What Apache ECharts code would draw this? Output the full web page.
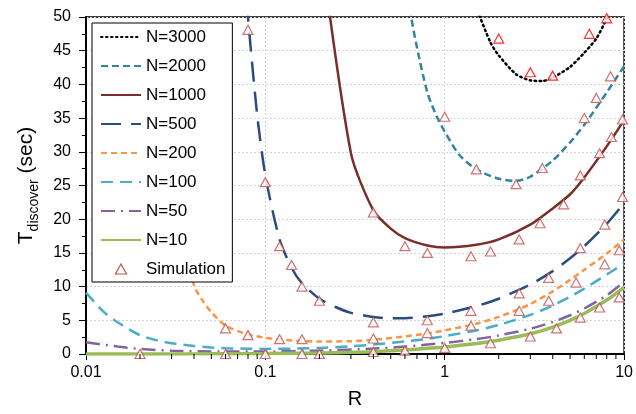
<!DOCTYPE html>
<html>
<head>
<meta charset="utf-8">
<title>T_discover vs R</title>
<script src="https://cdn.jsdelivr.net/npm/echarts@6/dist/echarts.min.js"></script>
<style>
  html, body { margin: 0; padding: 0; background: #fff; }
  #chart { width: 636px; height: 414px; }
</style>
</head>
<body>
<div id="chart"></div>
<script>
// Model curves: [R, T_discover (sec)]
const curveN3000 = [[1.4, 56], [1.5, 51.6], [1.8, 46.2], [2, 44.3], [2.5, 41.5], [3, 40.6], [3.5, 40.5], [4, 41.0], [5, 42.6], [6, 44.7], [7, 46.8], [8, 49.8], [8.5, 51.5]];
const curveN2000 = [[0.6, 56], [0.65, 50], [0.7, 45.5], [0.8, 38.8], [0.9, 35.3], [1, 33], [1.2, 29.6], [1.5, 27.4], [2, 26.0], [2.5, 25.7], [3, 26.3], [4, 28.7], [5, 31.4], [6, 34.0], [8, 38.8], [10, 42.7]];
const curveN1000 = [[0.2, 62], [0.3, 29.8], [0.4, 21.3], [0.5, 18.6], [0.6, 17.2], [0.8, 16.1], [1, 15.8], [1.5, 16.2], [2, 17.0], [3, 19.2], [4, 21.6], [5, 23.7], [6, 26.2], [8, 30.8], [10, 34.7]];
const curveN500 = [[0.07, 70], [0.08, 50], [0.09, 35.5], [0.1, 26.5], [0.12, 17], [0.14, 12.8], [0.16, 10.5], [0.2, 8.2], [0.25, 6.9], [0.3, 6.1], [0.4, 5.5], [0.5, 5.3], [0.6, 5.3], [0.8, 5.6], [1, 6.0], [1.5, 7.1], [2, 8.2], [3, 10.3], [4, 12.3], [5, 14.2], [6, 16.0], [8, 19.3], [10, 22.4]];
const curveN200 = [[0.03, 30], [0.035, 19], [0.04, 10.2], [0.045, 7.8], [0.05, 6.2], [0.06, 4.2], [0.08, 2.9], [0.1, 2.4], [0.12, 2.15], [0.15, 1.95], [0.2, 1.85], [0.3, 1.9], [0.4, 2.1], [0.6, 2.6], [0.8, 3.05], [1, 3.5], [1.5, 4.5], [2, 5.5], [3, 7.4], [4, 9.3], [5, 11.0], [6, 12.5], [8, 14.9], [10, 17.0]];
const curveN100 = [[0.01, 9.1], [0.0125, 6.3], [0.015, 4.7], [0.02, 2.8], [0.025, 2.0], [0.03, 1.6], [0.04, 1.2], [0.05, 0.97], [0.06, 0.85], [0.08, 0.78], [0.1, 0.76], [0.15, 0.8], [0.2, 0.9], [0.3, 1.15], [0.4, 1.4], [0.6, 1.85], [0.8, 2.25], [1, 2.65], [1.5, 3.5], [2, 4.3], [3, 5.8], [4, 7.2], [5, 8.5], [6, 9.7], [8, 11.8], [10, 13.4]];
const curveN50 = [[0.01, 1.75], [0.015, 1.1], [0.02, 0.75], [0.03, 0.5], [0.05, 0.38], [0.1, 0.38], [0.2, 0.5], [0.4, 0.8], [0.6, 1.1], [1, 1.65], [1.5, 2.2], [2, 2.75], [3, 3.75], [4, 4.75], [5, 5.75], [6, 6.75], [8, 8.7], [10, 10.7]];
const curveN10 = [[0.01, 0], [0.05, 0.02], [0.1, 0.06], [0.2, 0.15], [0.3, 0.25], [0.4, 0.35], [0.6, 0.6], [0.8, 0.85], [1, 1.05], [1.5, 1.55], [2, 2.05], [3, 3.0], [4, 4.0], [5, 5.0], [6, 6.0], [8, 8.0], [10, 9.9]];

// Simulation results: [R, T_discover (sec)]
const simN3000 = [[2, 46.8], [3, 41.8], [4, 41.3], [6.4, 47.5], [8, 49.8]];
const simN2000 = [[1, 35.2], [1.5, 27.4], [2.5, 25.2], [3.5, 27.6], [6, 35], [7, 38], [8.4, 41.2]];
const simN1000 = [[0.4, 21], [0.6, 16], [0.8, 15], [1.4, 14.5], [1.8, 15.2], [2.6, 17], [3.4, 19.4], [4.6, 22.2], [5.7, 26.5], [7.3, 29.8], [8.5, 32.2], [9.8, 34.8]];
const simN500 = [[0.08, 48.1], [0.1, 25.5], [0.12, 16], [0.14, 13.2], [0.16, 10], [0.2, 7.9], [0.4, 4.7], [0.8, 5], [1.4, 6.4], [2.6, 9], [3.8, 11.3], [5.7, 15.7], [7.8, 19.2], [9.8, 23.3]];
const simN200 = [[0.06, 3.8], [0.08, 2.8], [0.12, 2.2], [0.16, 2.2], [0.4, 2.3], [0.8, 3.1], [1.4, 4.2], [2.6, 6.4], [3.8, 7.9], [5.4, 10.6], [7.8, 13.3], [9.4, 15.4]];
const simLow = [[0.02, 0], [0.06, 0], [0.1, 0], [0.16, 0], [0.2, 0], [0.4, 0.3], [0.6, 0.5], [1, 0.9], [1.8, 1.6], [3, 2.6], [4.2, 3.8], [5.7, 5.4], [7.3, 6.9], [9.4, 8.4]];

// Axis settings
const xMin = 0.01, xMax = 10;
const yMin = 0, yMax = 50, yStep = 5;
const xMinorTicks = [0.02, 0.03, 0.04, 0.05, 0.06, 0.07, 0.08, 0.09, 0.2, 0.3, 0.4, 0.5, 0.6, 0.7, 0.8, 0.9, 2, 3, 4, 5, 6, 7, 8, 9];

const FONT = '"Liberation Sans", Arial, sans-serif';
const SIM_RED = '#C0504D';
// outline triangle used for the simulation markers in the legend
const TRIANGLE_ICON = 'path://M5,0L10,9L0,9Z';

const chart = echarts.init(document.getElementById('chart'), null, { renderer: 'canvas' });

function modelLine(name, data, color, width, dash, cap) {
  return {
    name, type: 'line', data, symbol: 'none', smooth: 0.25, clip: true,
    lineStyle: { color, width, type: dash, cap: cap || 'butt' },
    itemStyle: { color },
    z: 3
  };
}

const lineNames = ['N=3000', 'N=2000', 'N=1000', 'N=500', 'N=200', 'N=100', 'N=50', 'N=10'];

const simData = []
  .concat(simN3000.map(p => ({ value: p, itemStyle: { borderColor: '#FF0000' } })))
  .concat(simN2000, simN1000, simN500, simN200, simLow);

const option = {
  animation: false,
  backgroundColor: '#fff',
  grid: { left: 86, right: 8, top: 17, bottom: 56, show: true, borderColor: '#000', borderWidth: 1.5, backgroundColor: 'transparent' },
  legend: {
    orient: 'vertical', left: 92, top: 23,
    padding: [4, 7, 3, 8],
    itemWidth: 40, itemHeight: 10, itemGap: 9,
    symbolKeepAspect: true,
    backgroundColor: '#fff', borderColor: '#000', borderWidth: 1, borderRadius: 0,
    textStyle: { fontFamily: FONT, fontSize: 17, color: '#000', lineHeight: 20 },
    data: lineNames.map(n => ({ name: n, itemStyle: { opacity: 0 } })).concat([
      { name: 'Simulation', icon: TRIANGLE_ICON, itemStyle: { opacity: 1, color: '#fff', borderColor: SIM_RED, borderWidth: 1.2 } }
    ]),
    z: 10
  },
  xAxis: {
    type: 'log', logBase: 10, min: xMin, max: xMax,
    name: 'R', nameLocation: 'middle', nameGap: 35,
    nameTextStyle: { fontFamily: FONT, fontSize: 20, color: '#000' },
    axisLine: { lineStyle: { color: '#000', width: 2 } },
    axisTick: { show: true, inside: false, length: 6, lineStyle: { color: '#000', width: 1 } },
    axisLabel: { fontFamily: FONT, fontSize: 16, color: '#000', margin: 11, formatter: v => String(v) },
    splitLine: { show: true, lineStyle: { color: '#D4D4D4', width: 1, type: [2, 2] } },
    minorTick: { show: false }
  },
  yAxis: {
    type: 'value', min: yMin, max: yMax, interval: yStep,
    name: '{t|T}{s|discover}{t| (sec)}', nameLocation: 'middle', nameGap: 46, nameRotate: 90,
    nameTextStyle: {
      fontFamily: FONT, color: '#000',
      rich: {
        t: { fontFamily: FONT, fontSize: 21, color: '#000', verticalAlign: 'top', lineHeight: 24 },
        s: { fontFamily: FONT, fontSize: 14, color: '#000', verticalAlign: 'top', padding: [11, 0, 0, 0], lineHeight: 16 }
      }
    },
    axisLine: { show: true, lineStyle: { color: '#000', width: 2 } },
    axisTick: { show: true, inside: false, length: 7, lineStyle: { color: '#000', width: 1 } },
    minorTick: { show: true, splitNumber: 2, length: 4, lineStyle: { color: '#000', width: 1 } },
    axisLabel: { fontFamily: FONT, fontSize: 16, color: '#000', margin: 15 },
    splitLine: { show: true, lineStyle: { color: '#D4D4D4', width: 1, type: [2, 2] } }
  },
  series: [
    modelLine('N=3000', curveN3000, '#000000', 2.5, [1.5, 3.5], 'round'),
    modelLine('N=2000', curveN2000, '#31859C', 2.5, [7, 4]),
    modelLine('N=1000', curveN1000, '#7B2D2A', 2.5, 'solid'),
    modelLine('N=500', curveN500, '#2B4C7E', 2.5, [20, 10]),
    modelLine('N=200', curveN200, '#F79646', 2.5, [6, 4]),
    modelLine('N=100', curveN100, '#4BACC6', 2.5, [12, 7]),
    modelLine('N=50', curveN50, '#8064A2', 2.5, [14, 6, 2, 6]),
    modelLine('N=10', curveN10, '#9BBB59', 3.5, 'solid'),
    {
      name: 'Simulation', type: 'scatter', data: simData,
      symbol: 'triangle', symbolSize: [10, 9],
      itemStyle: { color: '#fff', borderColor: SIM_RED, borderWidth: 1.2 },
      z: 5
    },
    {
      // logarithmic minor ticks on the R axis (2..9 within each decade)
      name: 'minorTicksX', type: 'custom', silent: true, clip: false, z: 6,
      data: xMinorTicks.map(v => [v, 0]),
      renderItem: function (params, api) {
        const p = api.coord([api.value(0), 0]);
        return {
          type: 'line',
          shape: { x1: p[0], y1: p[1], x2: p[0], y2: p[1] + 5 },
          style: { stroke: '#000', lineWidth: 1 }
        };
      }
    }
  ]
};

chart.setOption(option);
</script>
</body>
</html>
